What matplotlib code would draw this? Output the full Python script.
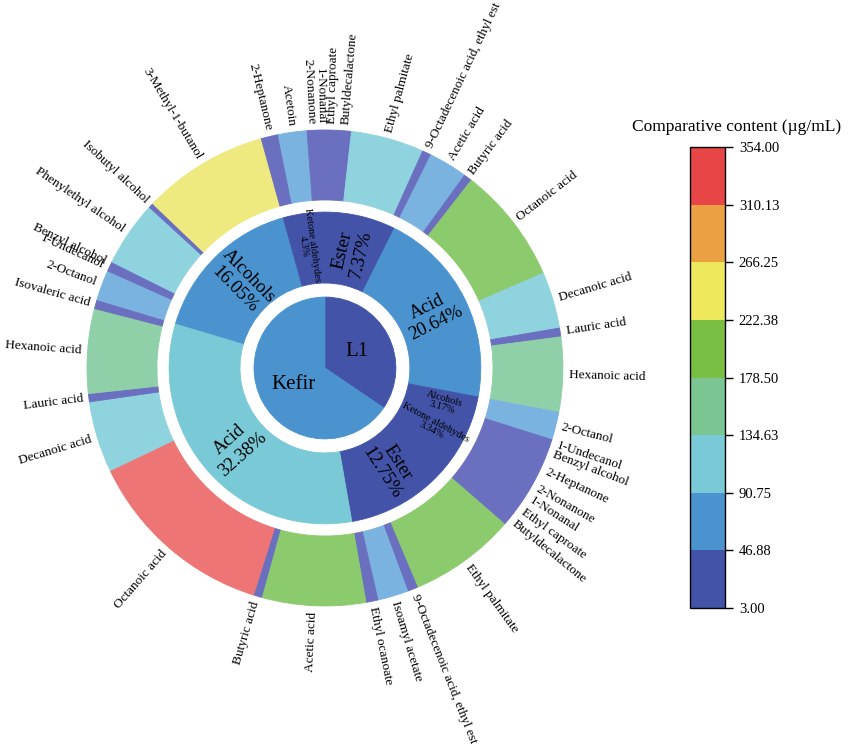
import matplotlib
matplotlib.use('Agg')
import matplotlib.pyplot as plt
import numpy as np
from matplotlib.colors import ListedColormap, BoundaryNorm
from matplotlib.cm import ScalarMappable

plt.rcParams['font.family'] = ['Liberation Serif', 'DejaVu Serif']

#### data ####
samples = ['L1', 'Kefir']
classes = ['Ester', 'Acid', 'Alcohols', 'Ketone aldehydes']
l1_pct = ['7.37%', '20.64%', '3.17%', '3.34%']
kefir_pct = ['12.75%', '32.38%', '16.05%', '4.3%']

l1_compounds = ['Ethyl caproate', 'Butyldecalactone', 'Ethyl palmitate', '9-Octadecenoic acid, ethyl est',
                'Acetic acid', 'Butyric acid', 'Octanoic acid', 'Decanoic acid', 'Lauric acid', 'Hexanoic acid',
                '2-Octanol', '1-Undecanol', 'Benzyl alcohol',
                '2-Heptanone', '2-Nonanone', '1-Nonanal']
l1_class = ['Ester'] * 4 + ['Acid'] * 6 + ['Alcohols'] * 3 + ['Ketone aldehydes'] * 3
l1_content = [24.0, 24.0, 134.0, 16.5,
              71.0, 15.0, 214.5, 103.5, 16.0, 137.0,
              51.0, 14.0, 20.5,
              45.0, 22.5, 23.0]

kefir_compounds = ['Ethyl caproate', 'Butyldecalactone', 'Ethyl palmitate', '9-Octadecenoic acid, ethyl est',
                   'Isoamyl acetate', 'Ethyl ocanoate',
                   'Acetic acid', 'Butyric acid', 'Octanoic acid', 'Decanoic acid', 'Lauric acid',
                   'Hexanoic acid', 'Isovaleric acid',
                   '2-Octanol', '1-Undecanol', 'Benzyl alcohol', 'Phenylethyl alcohol', 'Isobutyl alcohol',
                   '3-Methyl-1-butanol',
                   '2-Heptanone', 'Acetoin', '2-Nonanone', '1-Nonanal']
kefir_class = ['Ester'] * 6 + ['Acid'] * 7 + ['Alcohols'] * 6 + ['Ketone aldehydes'] * 4
kefir_content = [25.5, 25.5, 196.0, 19.0, 56.0, 22.0,
                 190.5, 15.0, 352.5, 130.0, 15.0, 155.0, 16.5,
                 55.5, 9.0, 9.0, 120.0, 9.0, 231.0,
                 31.5, 52.5, 16.5, 16.0]

# colour bin of the class ring and the centre pie
l1_class_bin = [0, 1, 0, 0]
kefir_class_bin = [0, 2, 1, 0]
sample_bin = [0, 1]

cbar_ticklabels = ['3.00', '46.88', '90.75', '134.63', '178.50', '222.38', '266.25', '310.13', '354.00']

#### colours ####
palette = ['#4353a8', '#4a93cf', '#7ac9d6', '#7bc592', '#78bf44', '#ede85c', '#eca044', '#e84646']
palette_light = ['#6a6fbf', '#7ab3e0', '#8fd3df', '#8fd0a8', '#8cca6e', '#eeea80', '#f0bb7a', '#ee7575']
vmin, vmax = 3.0, 354.0
bounds = np.linspace(vmin, vmax, len(palette) + 1)
cmap = ListedColormap(palette)
norm = BoundaryNorm(bounds, len(palette))


def class_sums(cls_list, vals):
    return [sum(v for c, v in zip(cls_list, vals) if c == k) for k in classes]


outer_names = l1_compounds + kefir_compounds
outer_vals = l1_content + kefir_content
outer_colors = [palette_light[int(norm(v))] for v in outer_vals]

mid_vals = class_sums(l1_class, l1_content) + class_sums(kefir_class, kefir_content)
mid_colors = [palette[b] for b in l1_class_bin + kefir_class_bin]
mid_text = [k + '\n' + p for k, p in zip(classes, l1_pct)] + [k + '\n' + p for k, p in zip(classes, kefir_pct)]

pie_vals = [sum(l1_content), sum(kefir_content)]
pie_colors = [palette[b] for b in sample_bin]

#### figure ####
fig = plt.figure(figsize=(8.51, 7.44), dpi=100)
ax = fig.add_axes([0.1022, 0.1855, 0.5593, 0.6398])

r_out, r_out_in = 1.0, 0.706
r_mid, r_mid_in = 0.655, 0.357
r_pie = 0.298

w_out, _ = ax.pie(outer_vals, radius=r_out, startangle=90, counterclock=False, colors=outer_colors,
                  wedgeprops=dict(width=r_out - r_out_in, linewidth=0.6))
w_mid, _ = ax.pie(mid_vals, radius=r_mid, startangle=90, counterclock=False, colors=mid_colors,
                  wedgeprops=dict(width=r_mid - r_mid_in, linewidth=0.6))
w_pie, _ = ax.pie(pie_vals, radius=r_pie, startangle=90, counterclock=False, colors=pie_colors,
                  wedgeprops=dict(linewidth=0.6))
# hide the seams between neighbouring wedges
for w in list(w_out) + list(w_mid) + list(w_pie):
    w.set_edgecolor(w.get_facecolor())

ax.set_xlim(-1, 1)
ax.set_ylim(-1, 1)
ax.set_aspect('equal')
ax.axis('off')


def mid_angle(w):
    a = (w.theta1 + w.theta2) / 2.0
    return (a + 180) % 360 - 180


# outer labels
for w, name in zip(w_out, outer_names):
    a = mid_angle(w)
    r = r_out + 0.025
    x, y = r * np.cos(np.radians(a)), r * np.sin(np.radians(a))
    if -90 <= a <= 90:
        ax.text(x, y, name, ha='left', va='center', rotation=a, rotation_mode='anchor', fontsize=9.5)
    else:
        ax.text(x, y, name, ha='right', va='center', rotation=a - 180, rotation_mode='anchor', fontsize=9.5)

# class labels
for w, txt in zip(w_mid, mid_text):
    a = mid_angle(w)
    small = (w.theta2 - w.theta1) < 20
    r = 0.5 if not small else 0.52
    x, y = r * np.cos(np.radians(a)), r * np.sin(np.radians(a))
    rot = a if -90 <= a <= 90 else a - 180
    ax.text(x, y, txt, ha='center', va='center', rotation=rot, rotation_mode='anchor',
            fontsize=7.5 if small else 13.5, linespacing=1.0 if small else 1.15)

# sample labels
for w, name in zip(w_pie, samples):
    a = mid_angle(w)
    r = 0.15
    ax.text(r * np.cos(np.radians(a)), r * np.sin(np.radians(a)), name, ha='center', va='center', fontsize=15)

#### colour bar ####
cax = fig.add_axes([0.8108, 0.1828, 0.0411, 0.6196])
cb = fig.colorbar(ScalarMappable(norm=norm, cmap=cmap), cax=cax, ticks=bounds)
cb.set_ticklabels(cbar_ticklabels)
cax.tick_params(labelsize=10.5, length=6, width=1, direction='out', pad=4)
cb.outline.set_linewidth(1)
fig.text(0.866, 0.829, 'Comparative content (\u00b5g/mL)', ha='center', va='center', fontsize=12.5)

fig.savefig('out.png', dpi=100)
